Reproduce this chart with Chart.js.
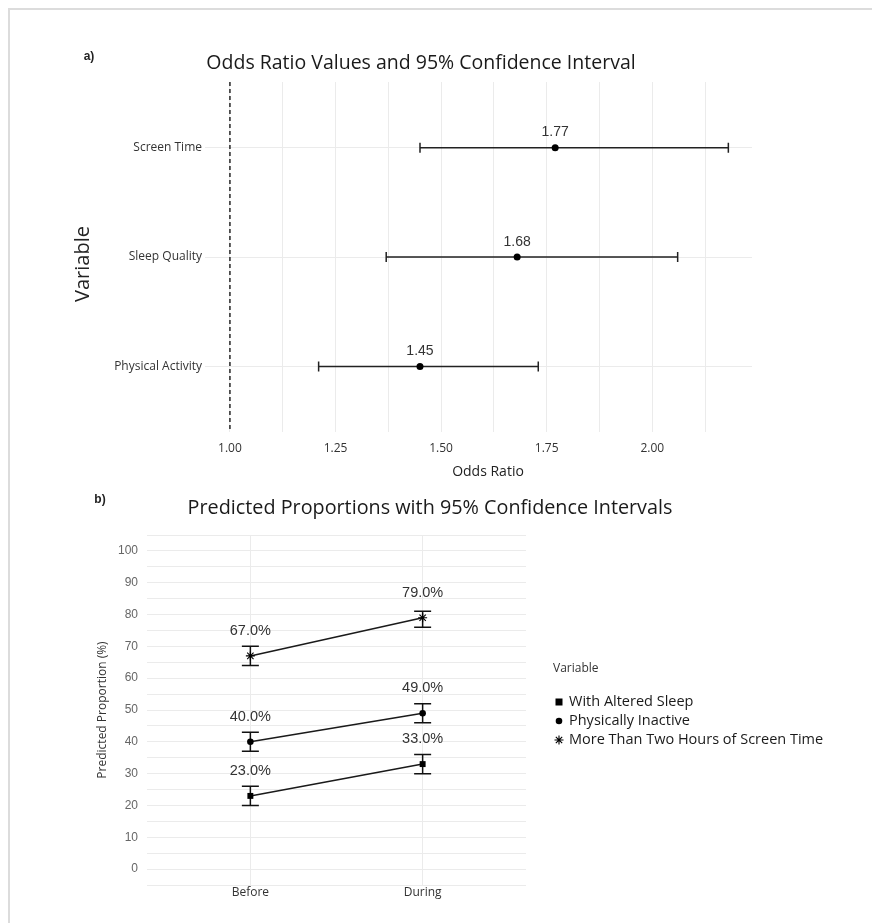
<!DOCTYPE html>
<html>
<head>
<meta charset="utf-8">
<title>Odds ratios and predicted proportions</title>
<script src="https://cdn.jsdelivr.net/npm/chart.js@4.4.1/dist/chart.umd.min.js"></script>
<style>
    html, body { margin: 0; padding: 0; background: #fff; }
    #page { position: relative; width: 872px; height: 923px; overflow: hidden; }
    #frame { position: absolute; left: 8px; top: 8px; right: -4px; bottom: -4px;
             border-top: 2px solid #dcdcdc; border-left: 2px solid #dcdcdc; }
    canvas { position: absolute; left: 0; }
    #oddsChart { top: 0; }
    #propChart { top: 480px; }
</style>
</head>
<body>
<div id="page">
    <div id="frame"></div>
    <canvas id="oddsChart" width="872" height="480"></canvas>
    <canvas id="propChart" width="872" height="443"></canvas>
</div>
<script>
// ============================================
// a) Odds ratios with 95% CI
// ============================================
const orVariables = ['Physical Activity', 'Sleep Quality', 'Screen Time'];
const orValues = [1.45, 1.68, 1.77];
const orLower = [1.21, 1.37, 1.45];
const orUpper = [1.73, 2.06, 2.18];
const orTicks = [1.00, 1.25, 1.50, 1.75, 2.00];
const orReference = 1.00;

// ============================================
// b) Predicted proportions with 95% CI
// ============================================
const periods = ['Before', 'During'];
const seriesNames = ['With Altered Sleep', 'Physically Inactive', 'More Than Two Hours of Screen Time'];
const sleepValues = [23, 33];
const sleepLower = [20, 30];
const sleepUpper = [26, 36];
const inactiveValues = [40, 49];
const inactiveLower = [37, 46];
const inactiveUpper = [43, 52];
const screenValues = [67, 79];
const screenLower = [64, 76];
const screenUpper = [70, 81];
const propTicks = [0, 10, 20, 30, 40, 50, 60, 70, 80, 90, 100];

const GRID = '#ebebeb';
const INK = '#1a1a1a';
const SANS = '"Open Sans", sans-serif';
const HELV = '"Liberation Sans", Arial, sans-serif';

Chart.defaults.font.family = SANS;
Chart.defaults.animation = false;
Chart.defaults.responsive = false;
Chart.defaults.devicePixelRatio = 1;

function text(ctx, str, x, y, font, color, align, rotate) {
    ctx.save();
    ctx.font = font;
    ctx.fillStyle = color;
    ctx.textAlign = align || 'center';
    ctx.textBaseline = 'middle';
    ctx.translate(x, y);
    if (rotate) ctx.rotate(rotate);
    ctx.fillText(str, 0, 0);
    ctx.restore();
}

// ---------- chart a ----------
const orPlugin = {
    id: 'orDecor',
    beforeDatasetsDraw(chart) {
        const { ctx, chartArea, scales: { x, y } } = chart;
        ctx.save();
        // linha de referência OR = 1
        const rx = x.getPixelForValue(orReference);
        ctx.strokeStyle = '#333';
        ctx.lineWidth = 1.6;
        ctx.setLineDash([4, 3]);
        ctx.beginPath();
        ctx.moveTo(rx, chartArea.top);
        ctx.lineTo(rx, chartArea.bottom);
        ctx.stroke();
        ctx.setLineDash([]);

        ctx.strokeStyle = '#222';
        ctx.lineWidth = 1.5;
        orValues.forEach((v, i) => {
            const py = y.getPixelForValue(i + 1);
            const x0 = x.getPixelForValue(orLower[i]);
            const x1 = x.getPixelForValue(orUpper[i]);
            ctx.beginPath();
            ctx.moveTo(x0, py); ctx.lineTo(x1, py);
            ctx.moveTo(x0, py - 5); ctx.lineTo(x0, py + 5);
            ctx.moveTo(x1, py - 5); ctx.lineTo(x1, py + 5);
            ctx.stroke();
        });
        ctx.restore();
    },
    afterDatasetsDraw(chart) {
        const { ctx, scales: { x, y } } = chart;
        orValues.forEach((v, i) => {
            text(ctx, v.toFixed(2), x.getPixelForValue(v), y.getPixelForValue(i + 1) - 15,
                '14px ' + HELV, '#333');
        });
    },
    afterDraw(chart) {
        const { ctx } = chart;
        text(ctx, 'a)', 89, 57, 'bold 12px ' + HELV, '#222');
        text(ctx, 'Odds Ratio Values and 95% Confidence Interval', 421, 63, '19.5px ' + SANS, INK);
        text(ctx, 'Odds Ratio', 488, 472, '14px ' + SANS, '#222');
        text(ctx, 'Variable', 83, 264, '20px ' + SANS, '#222', 'center', -Math.PI / 2);
    }
};

new Chart(document.getElementById('oddsChart'), {
    type: 'scatter',
    data: {
        datasets: [{
            data: orValues.map((v, i) => ({ x: v, y: i + 1 })),
            pointRadius: 3.5,
            pointBackgroundColor: '#000',
            pointBorderColor: '#000',
            pointBorderWidth: 0
        }]
    },
    options: {
        layout: { padding: { top: 82, right: 120, left: 0, bottom: 0 } },
        plugins: { legend: { display: false }, tooltip: { enabled: false } },
        scales: {
            x: {
                type: 'linear',
                min: 0.941,
                max: 2.236,
                afterBuildTicks: (scale) => {
                    const t = [];
                    orTicks.forEach(v => { t.push({ value: v }); t.push({ value: v + 0.125 }); });
                    scale.ticks = t;
                },
                afterFit: (scale) => { scale.height = 48; },
                ticks: {
                    autoSkip: false,
                    maxRotation: 0,
                    padding: 9,
                    color: '#333',
                    font: { size: 12, family: SANS },
                    callback: (value) => orTicks.includes(value) ? value.toFixed(2) : ''
                },
                grid: { color: GRID, drawTicks: false },
                border: { display: false }
            },
            y: {
                type: 'linear',
                min: 0.4,
                max: 3.6,
                afterBuildTicks: (scale) => {
                    scale.ticks = orVariables.map((_, i) => ({ value: i + 1 }));
                },
                afterFit: (scale) => { scale.width = 205; },
                ticks: {
                    autoSkip: false,
                    padding: 3,
                    color: '#333',
                    font: { size: 12, family: SANS },
                    callback: (value) => orVariables[value - 1]
                },
                grid: { color: GRID, drawTicks: false },
                border: { display: false }
            }
        }
    },
    plugins: [orPlugin]
});

// ---------- chart b ----------
const propSeries = [
    { name: seriesNames[0], values: sleepValues, lower: sleepLower, upper: sleepUpper, style: 'rect' },
    { name: seriesNames[1], values: inactiveValues, lower: inactiveLower, upper: inactiveUpper, style: 'circle' },
    { name: seriesNames[2], values: screenValues, lower: screenLower, upper: screenUpper, style: 'star' }
];

function drawMarker(ctx, style, x, y) {
    ctx.save();
    ctx.fillStyle = '#000';
    ctx.strokeStyle = '#000';
    if (style === 'rect') {
        ctx.fillRect(x - 3.5, y - 3.5, 7, 7);
    } else if (style === 'circle') {
        ctx.beginPath(); ctx.arc(x, y, 3.3, 0, Math.PI * 2); ctx.fill();
    } else {
        ctx.lineWidth = 1.1;
        const r = 4.5;
        ctx.beginPath();
        for (let k = 0; k < 4; k++) {
            const a = k * Math.PI / 4;
            ctx.moveTo(x - r * Math.cos(a), y - r * Math.sin(a));
            ctx.lineTo(x + r * Math.cos(a), y + r * Math.sin(a));
        }
        ctx.stroke();
    }
    ctx.restore();
}

const propPlugin = {
    id: 'propDecor',
    beforeDatasetsDraw(chart) {
        const { ctx, scales: { x, y } } = chart;
        ctx.save();
        ctx.strokeStyle = '#111';
        ctx.lineWidth = 1.5;
        propSeries.forEach(s => {
            s.values.forEach((v, i) => {
                const px = x.getPixelForValue(i + 1);
                const y0 = y.getPixelForValue(s.lower[i]);
                const y1 = y.getPixelForValue(s.upper[i]);
                ctx.beginPath();
                ctx.moveTo(px, y0); ctx.lineTo(px, y1);
                ctx.moveTo(px - 8.5, y0); ctx.lineTo(px + 8.5, y0);
                ctx.moveTo(px - 8.5, y1); ctx.lineTo(px + 8.5, y1);
                ctx.stroke();
            });
        });
        ctx.restore();
    },
    afterDatasetsDraw(chart) {
        const { ctx, scales: { x, y } } = chart;
        propSeries.forEach(s => {
            s.values.forEach((v, i) => {
                text(ctx, v.toFixed(1) + '%', x.getPixelForValue(i + 1), y.getPixelForValue(v) - 25,
                    '14.5px ' + HELV, '#333');
            });
        });
    },
    afterDraw(chart) {
        const { ctx } = chart;
        text(ctx, 'b)', 100, 20, 'bold 12px ' + HELV, '#222');
        text(ctx, 'Predicted Proportions with 95% Confidence Intervals', 430, 28, '19.8px ' + SANS, INK);
        text(ctx, 'Predicted Proportion (%)', 103, 230, '12px ' + SANS, '#333', 'center', -Math.PI / 2);
        // legenda
        text(ctx, 'Variable', 553, 189, '12px ' + SANS, '#333', 'left');
        propSeries.forEach((s, i) => {
            const ly = 222 + i * 19;
            drawMarker(ctx, s.style, 559, ly);
            text(ctx, s.name, 569, ly, '14.5px ' + SANS, INK, 'left');
        });
    }
};

new Chart(document.getElementById('propChart'), {
    type: 'line',
    data: {
        datasets: propSeries.map(s => ({
            label: s.name,
            data: s.values.map((v, i) => ({ x: i + 1, y: v })),
            borderColor: '#1a1a1a',
            borderWidth: 1.5,
            pointStyle: s.style,
            pointRadius: s.style === 'rect' ? 4.2 : (s.style === 'star' ? 4.5 : 3.3),
            pointBackgroundColor: '#000',
            pointBorderColor: '#000',
            pointBorderWidth: s.style === 'star' ? 1.1 : 0
        }))
    },
    options: {
        layout: { padding: { top: 55, right: 346, left: 0, bottom: 0 } },
        plugins: { legend: { display: false }, tooltip: { enabled: false } },
        scales: {
            x: {
                type: 'linear',
                min: 0.4,
                max: 2.6,
                afterBuildTicks: (scale) => {
                    scale.ticks = periods.map((_, i) => ({ value: i + 1 }));
                },
                afterFit: (scale) => { scale.height = 38; },
                ticks: {
                    autoSkip: false,
                    maxRotation: 0,
                    padding: 0,
                    color: '#333',
                    font: { size: 12, family: SANS },
                    callback: (value) => periods[value - 1]
                },
                grid: { color: GRID, drawTicks: false },
                border: { display: false }
            },
            y: {
                type: 'linear',
                min: -5,
                max: 105,
                afterBuildTicks: (scale) => {
                    const t = [];
                    for (let v = -5; v <= 105; v += 5) t.push({ value: v });
                    scale.ticks = t;
                },
                afterFit: (scale) => { scale.width = 147; },
                ticks: {
                    autoSkip: false,
                    padding: 9,
                    color: '#666',
                    font: { size: 12, family: HELV },
                    callback: (value) => propTicks.includes(value) ? String(value) : ''
                },
                grid: { color: GRID, drawTicks: false },
                border: { display: false }
            }
        }
    },
    plugins: [propPlugin]
});
</script>
</body>
</html>
